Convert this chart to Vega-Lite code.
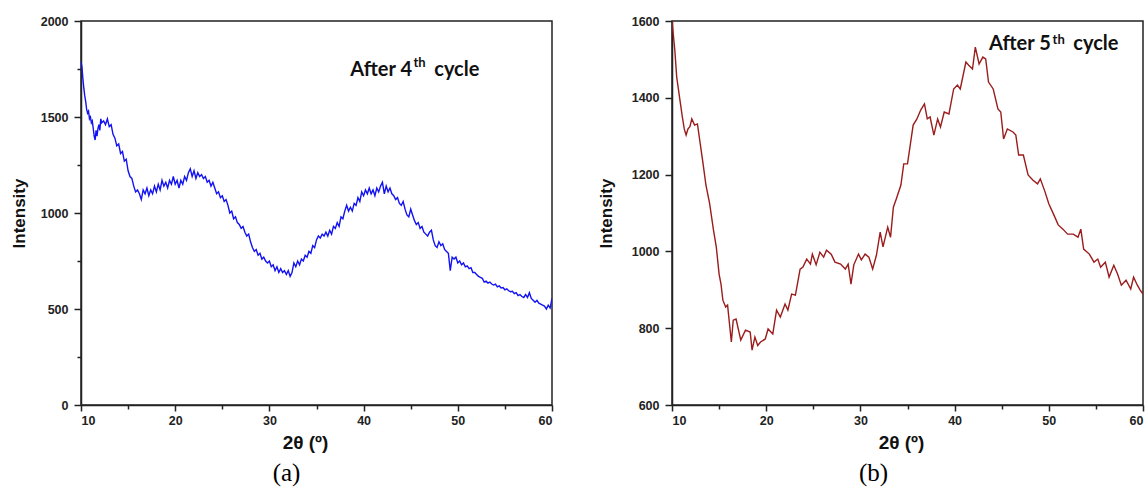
{
  "$schema": "https://vega.github.io/schema/vega-lite/v6.json",
  "background": "white",
  "padding": {"left": 9, "top": 14, "right": 0, "bottom": 0},
  "spacing": 120,
  "bounds": "flush",
  "config": {
    "view": {"stroke": "#222", "strokeWidth": 1.5},
    "axis": {
      "domainColor": "#222", "domainWidth": 1.5, "tickColor": "#222", "tickWidth": 1.5,
      "labelFont": "Liberation Sans", "labelFontWeight": "bold", "labelFontSize": 12.5, "labelColor": "#222",
      "titleFont": "Liberation Sans", "titleFontWeight": "bold", "titleColor": "#111", "grid": false
    },
    "title": {"font": "Liberation Serif", "fontSize": 25, "fontWeight": "normal", "color": "#000", "orient": "bottom", "offset": 8}
  },
  "datasets": {
    "a": [
      {"x":10.0,"y":1790},{"x":10.1,"y":1760},{"x":10.2,"y":1700},{"x":10.3,"y":1650},{"x":10.4,"y":1610},{"x":10.5,"y":1580},{"x":10.6,"y":1540},{"x":10.7,"y":1520},{"x":10.8,"y":1530},{"x":10.9,"y":1490},{"x":11.0,"y":1500},{"x":11.1,"y":1470},{"x":11.2,"y":1480},{"x":11.3,"y":1440},{"x":11.4,"y":1400},{"x":11.5,"y":1380},{"x":11.6,"y":1430},{"x":11.7,"y":1400},{"x":11.8,"y":1440},{"x":11.9,"y":1460},{"x":12.0,"y":1430},{"x":12.1,"y":1490},{"x":12.2,"y":1470},{"x":12.4,"y":1480},{"x":12.6,"y":1460},{"x":12.8,"y":1490},{"x":13.0,"y":1450},{"x":13.2,"y":1460},{"x":13.4,"y":1410},{"x":13.6,"y":1390},{"x":13.8,"y":1350},{"x":14.0,"y":1360},{"x":14.2,"y":1310},{"x":14.4,"y":1320},{"x":14.6,"y":1270},{"x":14.8,"y":1280},{"x":15.0,"y":1220},{"x":15.2,"y":1190},{"x":15.4,"y":1180},{"x":15.6,"y":1140},{"x":15.8,"y":1110},{"x":16.0,"y":1120},{"x":16.2,"y":1100},{"x":16.4,"y":1070},{"x":16.6,"y":1120},{"x":16.8,"y":1100},{"x":17.0,"y":1130},{"x":17.2,"y":1090},{"x":17.4,"y":1120},{"x":17.6,"y":1100},{"x":17.8,"y":1140},{"x":18.0,"y":1110},{"x":18.2,"y":1150},{"x":18.4,"y":1120},{"x":18.6,"y":1170},{"x":18.8,"y":1140},{"x":19.0,"y":1160},{"x":19.2,"y":1130},{"x":19.4,"y":1170},{"x":19.6,"y":1150},{"x":19.8,"y":1190},{"x":20.0,"y":1150},{"x":20.2,"y":1170},{"x":20.4,"y":1130},{"x":20.6,"y":1170},{"x":20.8,"y":1150},{"x":21.0,"y":1190},{"x":21.2,"y":1170},{"x":21.4,"y":1210},{"x":21.6,"y":1230},{"x":21.8,"y":1190},{"x":22.0,"y":1220},{"x":22.2,"y":1180},{"x":22.4,"y":1210},{"x":22.6,"y":1190},{"x":22.8,"y":1200},{"x":23.0,"y":1180},{"x":23.2,"y":1190},{"x":23.4,"y":1160},{"x":23.6,"y":1170},{"x":23.8,"y":1140},{"x":24.0,"y":1160},{"x":24.2,"y":1130},{"x":24.4,"y":1100},{"x":24.6,"y":1110},{"x":24.8,"y":1080},{"x":25.0,"y":1090},{"x":25.2,"y":1060},{"x":25.4,"y":1070},{"x":25.6,"y":1040},{"x":25.8,"y":1000},{"x":26.0,"y":1010},{"x":26.2,"y":970},{"x":26.4,"y":980},{"x":26.6,"y":950},{"x":26.8,"y":940},{"x":27.0,"y":920},{"x":27.2,"y":930},{"x":27.4,"y":900},{"x":27.6,"y":880},{"x":27.8,"y":890},{"x":28.0,"y":850},{"x":28.2,"y":820},{"x":28.4,"y":800},{"x":28.6,"y":810},{"x":28.8,"y":780},{"x":29.0,"y":790},{"x":29.2,"y":760},{"x":29.4,"y":770},{"x":29.6,"y":750},{"x":29.8,"y":740},{"x":30.0,"y":750},{"x":30.2,"y":720},{"x":30.4,"y":730},{"x":30.6,"y":700},{"x":30.8,"y":720},{"x":31.0,"y":690},{"x":31.2,"y":710},{"x":31.4,"y":690},{"x":31.6,"y":700},{"x":31.8,"y":680},{"x":32.0,"y":700},{"x":32.2,"y":670},{"x":32.4,"y":690},{"x":32.6,"y":740},{"x":32.8,"y":720},{"x":33.0,"y":750},{"x":33.2,"y":730},{"x":33.4,"y":760},{"x":33.6,"y":750},{"x":33.8,"y":780},{"x":34.0,"y":770},{"x":34.2,"y":800},{"x":34.4,"y":790},{"x":34.6,"y":830},{"x":34.8,"y":820},{"x":35.0,"y":860},{"x":35.2,"y":880},{"x":35.4,"y":870},{"x":35.6,"y":890},{"x":35.8,"y":880},{"x":36.0,"y":900},{"x":36.2,"y":880},{"x":36.4,"y":910},{"x":36.6,"y":890},{"x":36.8,"y":930},{"x":37.0,"y":920},{"x":37.2,"y":950},{"x":37.4,"y":930},{"x":37.6,"y":980},{"x":37.8,"y":970},{"x":38.0,"y":1010},{"x":38.2,"y":1040},{"x":38.4,"y":1010},{"x":38.6,"y":1030},{"x":38.8,"y":1010},{"x":39.0,"y":1050},{"x":39.2,"y":1040},{"x":39.4,"y":1080},{"x":39.6,"y":1060},{"x":39.8,"y":1110},{"x":40.0,"y":1090},{"x":40.2,"y":1120},{"x":40.4,"y":1100},{"x":40.6,"y":1130},{"x":40.8,"y":1100},{"x":41.0,"y":1120},{"x":41.2,"y":1090},{"x":41.4,"y":1130},{"x":41.6,"y":1110},{"x":41.8,"y":1140},{"x":42.0,"y":1160},{"x":42.2,"y":1100},{"x":42.4,"y":1140},{"x":42.6,"y":1110},{"x":42.8,"y":1130},{"x":43.0,"y":1100},{"x":43.2,"y":1090},{"x":43.4,"y":1070},{"x":43.6,"y":1080},{"x":43.8,"y":1050},{"x":44.0,"y":1040},{"x":44.2,"y":1060},{"x":44.4,"y":1020},{"x":44.6,"y":990},{"x":44.8,"y":980},{"x":45.0,"y":1020},{"x":45.2,"y":990},{"x":45.4,"y":960},{"x":45.6,"y":940},{"x":45.8,"y":950},{"x":46.0,"y":920},{"x":46.2,"y":930},{"x":46.4,"y":900},{"x":46.6,"y":890},{"x":46.8,"y":880},{"x":47.0,"y":900},{"x":47.2,"y":910},{"x":47.4,"y":860},{"x":47.6,"y":830},{"x":47.8,"y":820},{"x":48.0,"y":850},{"x":48.2,"y":830},{"x":48.4,"y":840},{"x":48.6,"y":810},{"x":48.8,"y":800},{"x":49.0,"y":790},{"x":49.2,"y":700},{"x":49.4,"y":770},{"x":49.6,"y":760},{"x":49.8,"y":770},{"x":50.0,"y":740},{"x":50.2,"y":750},{"x":50.4,"y":730},{"x":50.6,"y":740},{"x":50.8,"y":720},{"x":51.0,"y":725},{"x":51.2,"y":710},{"x":51.4,"y":715},{"x":51.6,"y":690},{"x":51.8,"y":690},{"x":52.0,"y":680},{"x":52.2,"y":670},{"x":52.4,"y":665},{"x":52.6,"y":660},{"x":52.8,"y":640},{"x":53.0,"y":645},{"x":53.2,"y":635},{"x":53.4,"y":640},{"x":53.6,"y":630},{"x":53.8,"y":625},{"x":54.0,"y":630},{"x":54.2,"y":615},{"x":54.4,"y":620},{"x":54.6,"y":610},{"x":54.8,"y":612},{"x":55.0,"y":600},{"x":55.2,"y":605},{"x":55.4,"y":595},{"x":55.6,"y":590},{"x":55.8,"y":592},{"x":56.0,"y":580},{"x":56.2,"y":585},{"x":56.4,"y":570},{"x":56.6,"y":575},{"x":56.8,"y":565},{"x":57.0,"y":560},{"x":57.2,"y":575},{"x":57.4,"y":560},{"x":57.6,"y":585},{"x":57.8,"y":555},{"x":58.0,"y":545},{"x":58.2,"y":535},{"x":58.4,"y":545},{"x":58.6,"y":530},{"x":58.8,"y":525},{"x":59.0,"y":520},{"x":59.2,"y":515},{"x":59.4,"y":500},{"x":59.6,"y":520},{"x":59.8,"y":505},{"x":60.0,"y":555}
    ],
    "b": [
      {"x":10.0,"y":1600},{"x":10.3,"y":1524},{"x":10.5,"y":1454},{"x":10.9,"y":1384},{"x":11.1,"y":1350},{"x":11.3,"y":1319},{"x":11.5,"y":1303},{"x":11.7,"y":1319},{"x":11.9,"y":1325},{"x":12.1,"y":1345},{"x":12.4,"y":1329},{"x":12.7,"y":1332},{"x":13.0,"y":1280},{"x":13.3,"y":1228},{"x":13.6,"y":1173},{"x":14.0,"y":1124},{"x":14.4,"y":1056},{"x":14.7,"y":1012},{"x":15.0,"y":941},{"x":15.2,"y":915},{"x":15.4,"y":873},{"x":15.7,"y":855},{"x":15.9,"y":860},{"x":16.3,"y":764},{"x":16.5,"y":821},{"x":16.8,"y":824},{"x":17.3,"y":769},{"x":17.8,"y":795},{"x":18.3,"y":790},{"x":18.5,"y":743},{"x":18.8,"y":777},{"x":19.1,"y":755},{"x":19.4,"y":764},{"x":19.9,"y":772},{"x":20.2,"y":798},{"x":20.7,"y":785},{"x":21.1,"y":847},{"x":21.5,"y":829},{"x":22.0,"y":863},{"x":22.3,"y":847},{"x":22.7,"y":889},{"x":23.1,"y":886},{"x":23.6,"y":954},{"x":23.9,"y":959},{"x":24.3,"y":980},{"x":24.7,"y":967},{"x":24.9,"y":993},{"x":25.3,"y":965},{"x":25.7,"y":998},{"x":26.1,"y":985},{"x":26.4,"y":1003},{"x":26.9,"y":993},{"x":27.3,"y":972},{"x":27.9,"y":967},{"x":28.4,"y":954},{"x":28.7,"y":967},{"x":29.0,"y":915},{"x":29.3,"y":965},{"x":29.8,"y":993},{"x":30.1,"y":978},{"x":30.5,"y":993},{"x":30.9,"y":985},{"x":31.3,"y":954},{"x":31.7,"y":990},{"x":32.1,"y":1050},{"x":32.4,"y":1012},{"x":32.9,"y":1063},{"x":33.2,"y":1037},{"x":33.5,"y":1115},{"x":33.8,"y":1136},{"x":34.3,"y":1173},{"x":34.6,"y":1228},{"x":35.0,"y":1228},{"x":35.6,"y":1329},{"x":36.0,"y":1345},{"x":36.4,"y":1368},{"x":36.8,"y":1384},{"x":37.1,"y":1345},{"x":37.4,"y":1350},{"x":37.8,"y":1303},{"x":38.2,"y":1345},{"x":38.5,"y":1324},{"x":38.9,"y":1363},{"x":39.4,"y":1358},{"x":39.9,"y":1423},{"x":40.3,"y":1433},{"x":40.6,"y":1423},{"x":41.2,"y":1493},{"x":41.5,"y":1485},{"x":41.9,"y":1475},{"x":42.2,"y":1532},{"x":42.6,"y":1488},{"x":43.0,"y":1506},{"x":43.3,"y":1501},{"x":43.6,"y":1441},{"x":44.1,"y":1423},{"x":44.6,"y":1371},{"x":44.9,"y":1363},{"x":45.2,"y":1293},{"x":45.6,"y":1319},{"x":46.2,"y":1311},{"x":46.5,"y":1303},{"x":46.8,"y":1251},{"x":47.3,"y":1251},{"x":47.8,"y":1199},{"x":48.3,"y":1186},{"x":48.8,"y":1176},{"x":49.1,"y":1189},{"x":49.6,"y":1155},{"x":50.0,"y":1124},{"x":50.5,"y":1097},{"x":51.0,"y":1069},{"x":51.5,"y":1058},{"x":52.0,"y":1045},{"x":52.6,"y":1045},{"x":53.1,"y":1037},{"x":53.4,"y":1058},{"x":53.7,"y":1006},{"x":54.3,"y":993},{"x":54.8,"y":972},{"x":55.2,"y":980},{"x":55.5,"y":959},{"x":56.0,"y":972},{"x":56.4,"y":933},{"x":56.9,"y":964},{"x":57.3,"y":941},{"x":57.7,"y":912},{"x":58.2,"y":925},{"x":58.7,"y":902},{"x":59.0,"y":933},{"x":59.4,"y":912},{"x":59.7,"y":899},{"x":60.0,"y":889}
    ]
  },
  "hconcat": [
    {
      "width": 471, "height": 384,
      "title": {"text": "(a)", "dx": -30},
      "layer": [
        {
          "data": {"name": "a"},
          "mark": {"type": "line", "color": "#1212f2", "strokeWidth": 1.4, "clip": true},
          "encoding": {
            "x": {"field": "x", "type": "quantitative", "scale": {"domain": [10, 60], "nice": false},
              "axis": {"values": [10,15,20,25,30,35,40,45,50,55,60], "labelExpr": "datum.value % 10 === 0 ? '' + datum.value : ''",
                "tickSize": {"condition": {"test": "datum.value % 10 === 0", "value": 6}, "value": 4},
                "labelFont": "Liberation Sans", "labelFontWeight": "bold", "labelFontSize": 12.5,
                "labelPadding": 3, "title": "2θ (º)", "titleFontSize": 19, "titlePadding": 7, "titleX": 224}},
            "y": {"field": "y", "type": "quantitative", "scale": {"domain": [0, 2000], "nice": false},
              "axis": {"values": [0,250,500,750,1000,1250,1500,1750,2000], "labelExpr": "datum.value % 500 === 0 ? '' + datum.value : ''",
                "tickSize": {"condition": {"test": "datum.value % 500 === 0", "value": 7}, "value": 4},
                "labelFont": "Liberation Sans", "labelFontWeight": "bold", "labelFontSize": 12.5,
                "labelPadding": 6, "title": "Intensity", "titleFontSize": 17, "titlePadding": 12}}
          }
        },
        {
          "data": {"values": [{"x": 45.14, "y": 1716}]},
          "mark": {"type": "text", "text": "After 4", "align": "right", "baseline": "alphabetic", "font": "Lato", "fontWeight": "bold", "fontSize": 20, "color": "#111"},
          "encoding": {"x": {"field": "x", "type": "quantitative"}, "y": {"field": "y", "type": "quantitative"}}
        },
        {
          "data": {"values": [{"x": 45.3, "y": 1762}]},
          "mark": {"type": "text", "text": "th", "align": "left", "baseline": "alphabetic", "font": "Lato", "fontWeight": "bold", "fontSize": 13, "color": "#111"},
          "encoding": {"x": {"field": "x", "type": "quantitative"}, "y": {"field": "y", "type": "quantitative"}}
        },
        {
          "data": {"values": [{"x": 47.5, "y": 1716}]},
          "mark": {"type": "text", "text": "cycle", "align": "left", "baseline": "alphabetic", "font": "Lato", "fontWeight": "bold", "fontSize": 20, "color": "#111"},
          "encoding": {"x": {"field": "x", "type": "quantitative"}, "y": {"field": "y", "type": "quantitative"}}
        }
      ]
    },
    {
      "width": 471, "height": 384,
      "title": {"text": "(b)", "dx": -34},
      "layer": [
        {
          "data": {"name": "b"},
          "mark": {"type": "line", "color": "#9a1c1c", "strokeWidth": 1.4, "clip": true},
          "encoding": {
            "x": {"field": "x", "type": "quantitative", "scale": {"domain": [10, 60], "nice": false},
              "axis": {"values": [10,15,20,25,30,35,40,45,50,55,60], "labelExpr": "datum.value % 10 === 0 ? '' + datum.value : ''",
                "tickSize": {"condition": {"test": "datum.value % 10 === 0", "value": 6}, "value": 4},
                "labelFont": "Liberation Sans", "labelFontWeight": "bold", "labelFontSize": 12.5,
                "labelPadding": 3, "title": "2θ (º)", "titleFontSize": 19, "titlePadding": 7, "titleX": 229}},
            "y": {"field": "y", "type": "quantitative", "scale": {"domain": [600, 1600], "nice": false},
              "axis": {"values": [600,700,800,900,1000,1100,1200,1300,1400,1500,1600], "labelExpr": "datum.value % 200 === 0 ? '' + datum.value : ''",
                "tickSize": {"condition": {"test": "datum.value % 200 === 0", "value": 7}, "value": 4},
                "labelFont": "Liberation Sans", "labelFontWeight": "bold", "labelFontSize": 12.5,
                "labelPadding": 6, "title": "Intensity", "titleFontSize": 17, "titlePadding": 16}}
          }
        },
        {
          "data": {"values": [{"x": 50.21, "y": 1524}]},
          "mark": {"type": "text", "text": "After 5", "align": "right", "baseline": "alphabetic", "font": "Lato", "fontWeight": "bold", "fontSize": 20, "color": "#111"},
          "encoding": {"x": {"field": "x", "type": "quantitative"}, "y": {"field": "y", "type": "quantitative"}}
        },
        {
          "data": {"values": [{"x": 50.4, "y": 1540}]},
          "mark": {"type": "text", "text": "th", "align": "left", "baseline": "alphabetic", "font": "Lato", "fontWeight": "bold", "fontSize": 13, "color": "#111"},
          "encoding": {"x": {"field": "x", "type": "quantitative"}, "y": {"field": "y", "type": "quantitative"}}
        },
        {
          "data": {"values": [{"x": 52.6, "y": 1524}]},
          "mark": {"type": "text", "text": "cycle", "align": "left", "baseline": "alphabetic", "font": "Lato", "fontWeight": "bold", "fontSize": 20, "color": "#111"},
          "encoding": {"x": {"field": "x", "type": "quantitative"}, "y": {"field": "y", "type": "quantitative"}}
        }
      ]
    }
  ]
}
